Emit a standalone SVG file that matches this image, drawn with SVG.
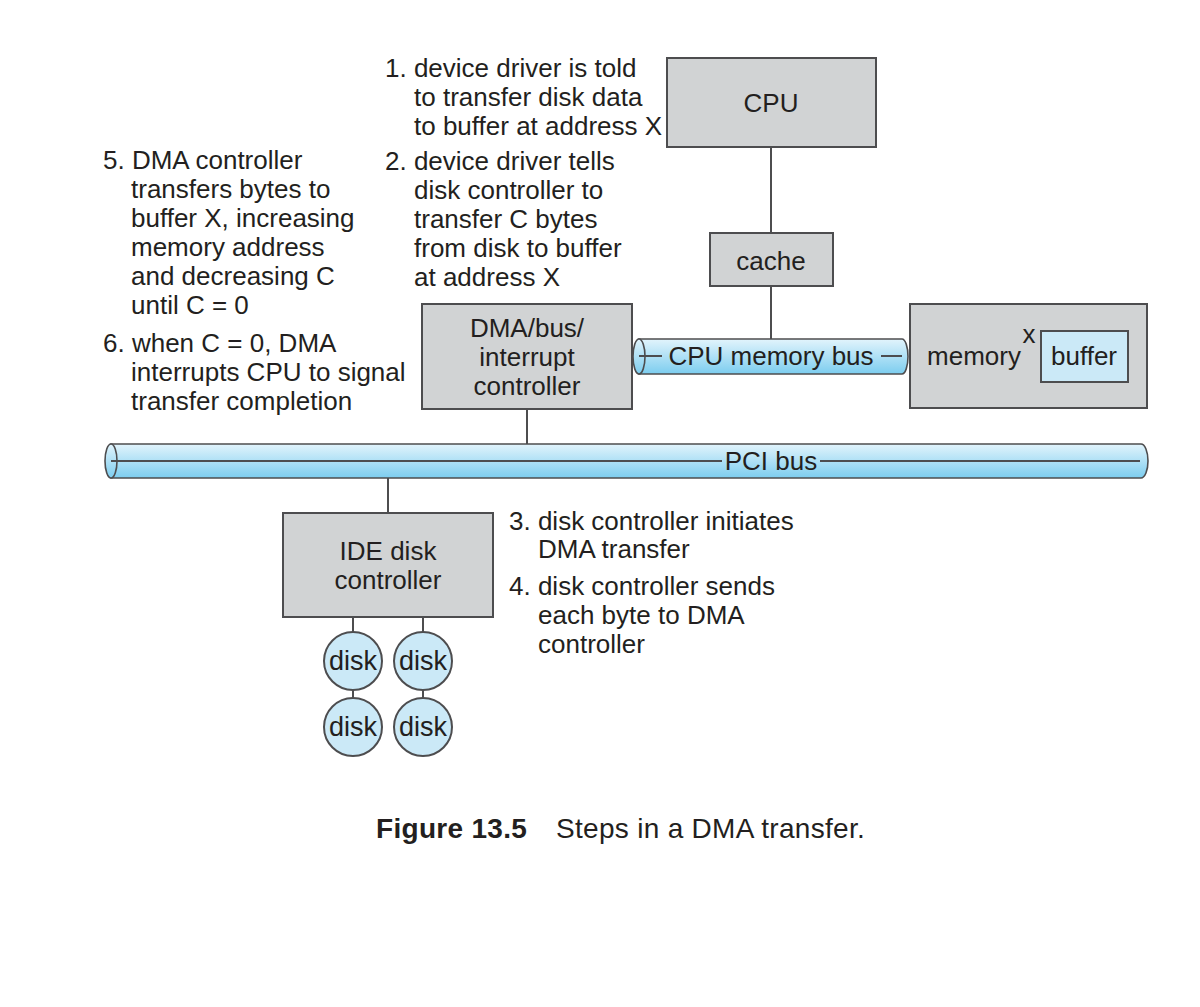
<svg xmlns="http://www.w3.org/2000/svg" width="1200" height="1007" viewBox="0 0 1200 1007">
<defs>
<linearGradient id="tube" x1="0" y1="0" x2="0" y2="1">
<stop offset="0" stop-color="#e2f4fc"/>
<stop offset="1" stop-color="#7ccdef"/>
</linearGradient>
<style>
text{font-family:"Liberation Sans",Arial,sans-serif;fill:#231f20;font-size:26px}
.c{text-anchor:middle}
.box{fill:#d1d3d4;stroke:#4d4d4f;stroke-width:2}
.blue{fill:#cbe9f7;stroke:#4d4d4f;stroke-width:2}
.tube{fill:url(#tube);stroke:#4d4d4f;stroke-width:1.6}
.ln{stroke:#4d4d4f;stroke-width:2;fill:none}
.cap{font-size:28px;letter-spacing:0.3px}
.dk{font-size:27px}
</style>
</defs>
<rect width="1200" height="1007" fill="#fff"/>

<g id="connectors">
<line class="ln" x1="771" y1="147" x2="771" y2="233"/>
<line class="ln" x1="771" y1="286" x2="771" y2="345"/>
<line class="ln" x1="527" y1="409" x2="527" y2="461"/>
<line class="ln" x1="388" y1="461" x2="388" y2="513"/>
<line class="ln" x1="353" y1="617" x2="353" y2="632"/>
<line class="ln" x1="423" y1="617" x2="423" y2="632"/>
<line class="ln" x1="353" y1="690" x2="353" y2="698"/>
<line class="ln" x1="423" y1="690" x2="423" y2="698"/>
</g>

<g id="pci-bus">
<path class="tube" d="M111,444 H1141 A7,17 0 0 1 1141,478 H111 Z"/>
<ellipse class="tube" cx="111" cy="461" rx="6" ry="17"/>
<line class="ln" x1="111" y1="461" x2="722" y2="461"/>
<line class="ln" x1="820" y1="461" x2="1140" y2="461"/>
<text class="c" x="771" y="470">PCI bus</text>
</g>

<g id="cpu-memory-bus">
<path class="tube" d="M639,339 H902 A6,17.5 0 0 1 902,374 H639 Z"/>
<ellipse class="tube" cx="639" cy="356.5" rx="6" ry="17.5"/>
<line class="ln" x1="639" y1="356" x2="662" y2="356"/>
<line class="ln" x1="881" y1="356" x2="902" y2="356"/>
<text class="c" x="771" y="365">CPU memory bus</text>
</g>

<g id="cpu">
<rect class="box" x="667" y="58" width="209" height="89"/>
<text class="c" x="771" y="112">CPU</text>
</g>

<g id="cache">
<rect class="box" x="710" y="233" width="123" height="53"/>
<text class="c" x="771" y="270">cache</text>
</g>

<g id="dma">
<rect class="box" x="422" y="304" width="210" height="105"/>
<text class="c" x="527" y="337">DMA/bus/</text>
<text class="c" x="527" y="366">interrupt</text>
<text class="c" x="527" y="395">controller</text>
</g>

<g id="memory">
<rect class="box" x="910" y="304" width="237" height="104"/>
<text class="c" x="974" y="365">memory</text>
<text class="c" x="1029" y="343">x</text>
<rect class="blue" x="1041" y="331" width="87" height="51"/>
<text class="c" x="1084" y="365">buffer</text>
</g>

<g id="ide">
<rect class="box" x="283" y="513" width="210" height="104"/>
<text class="c" x="388" y="560">IDE disk</text>
<text class="c" x="388" y="589">controller</text>
</g>

<g id="disk1"><circle class="blue" cx="353" cy="661" r="29"/><text class="c dk" x="353" y="670">disk</text></g>
<g id="disk2"><circle class="blue" cx="423" cy="661" r="29"/><text class="c dk" x="423" y="670">disk</text></g>
<g id="disk3"><circle class="blue" cx="353" cy="727" r="29"/><text class="c dk" x="353" y="736">disk</text></g>
<g id="disk4"><circle class="blue" cx="423" cy="727" r="29"/><text class="c dk" x="423" y="736">disk</text></g>

<g id="step1">
<text x="385" y="77">1. device driver is told</text>
<text x="414" y="106">to transfer disk data</text>
<text x="414" y="135">to buffer at address X</text>
</g>
<g id="step2">
<text x="385" y="170">2. device driver tells</text>
<text x="414" y="199">disk controller to</text>
<text x="414" y="228">transfer C bytes</text>
<text x="414" y="257">from disk to buffer</text>
<text x="414" y="286">at address X</text>
</g>
<g id="step5">
<text x="103" y="169">5. DMA controller</text>
<text x="131" y="198">transfers bytes to</text>
<text x="131" y="227">buffer X, increasing</text>
<text x="131" y="256">memory address</text>
<text x="131" y="285">and decreasing C</text>
<text x="131" y="314">until C = 0</text>
</g>
<g id="step6">
<text x="103" y="352">6. when C = 0, DMA</text>
<text x="131" y="381">interrupts CPU to signal</text>
<text x="131" y="410">transfer completion</text>
</g>
<g id="step3">
<text x="509" y="530">3. disk controller initiates</text>
<text x="538" y="558">DMA transfer</text>
</g>
<g id="step4">
<text x="509" y="595">4. disk controller sends</text>
<text x="538" y="624">each byte to DMA</text>
<text x="538" y="653">controller</text>
</g>

<g id="caption">
<text class="cap" x="376" y="838" font-weight="bold">Figure 13.5</text>
<text class="cap" x="556" y="838">Steps in a DMA transfer.</text>
</g>
</svg>
